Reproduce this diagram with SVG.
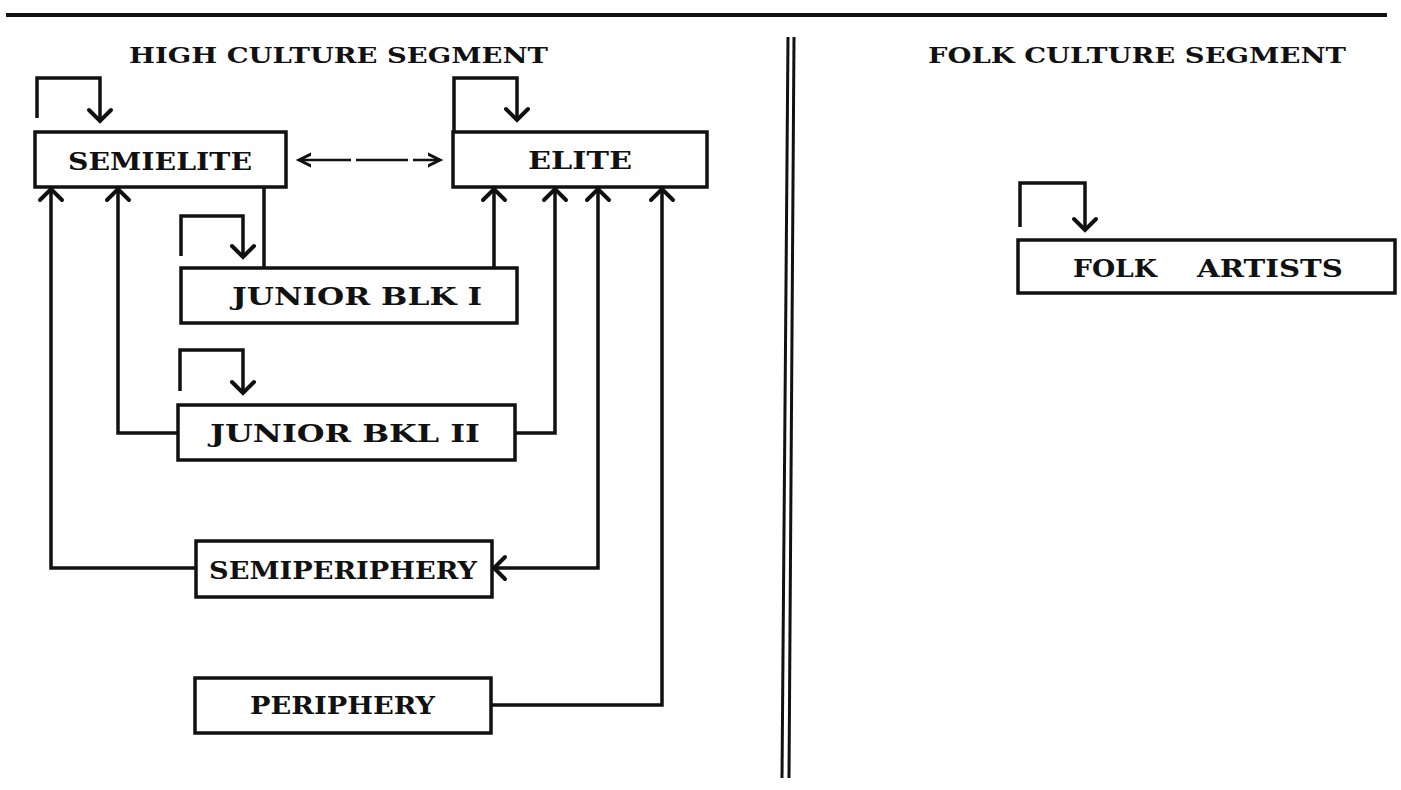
<svg xmlns="http://www.w3.org/2000/svg" width="1401" height="790" viewBox="0 0 1401 790">
<style>
.box{fill:#fff;stroke:#111;stroke-width:3.5}
.lbl{font-family:"DejaVu Serif","Liberation Serif",serif;font-weight:bold;font-size:25px;fill:#111}
.ttl{font-family:"DejaVu Serif","Liberation Serif",serif;font-weight:bold;font-size:23px;fill:#111}
.ln{fill:none;stroke:#111;stroke-width:3.5;stroke-linejoin:miter}
.rule{fill:none;stroke:#111;stroke-width:4}
</style>
<defs>
<marker id="ah" viewBox="-16 -16 32 32" markerWidth="32" markerHeight="32" markerUnits="userSpaceOnUse" orient="auto-start-reverse">
<path d="M-11,-11 L0,0 L-11,11" fill="none" stroke="#111" stroke-width="4" stroke-linecap="round" stroke-linejoin="miter"/>
</marker>
<marker id="sh" viewBox="-12 -12 24 24" markerWidth="24" markerHeight="24" markerUnits="userSpaceOnUse" orient="auto-start-reverse">
<path d="M-12,-6 L0,0 L-12,6" fill="none" stroke="#111" stroke-width="3" stroke-linecap="round"/>
</marker>
</defs>
<rect width="1401" height="790" fill="#fff"/>
<g id="frame">
<line class="rule" x1="6" y1="15" x2="1387" y2="15"/>
<line x1="788" y1="37" x2="782" y2="778" stroke="#111" stroke-width="3"/>
<line x1="794" y1="37" x2="789" y2="778" stroke="#111" stroke-width="3"/>
<text class="ttl" x="129" y="63" textLength="419" lengthAdjust="spacingAndGlyphs">HIGH CULTURE SEGMENT</text>
<text class="ttl" x="928" y="63" textLength="418" lengthAdjust="spacingAndGlyphs">FOLK CULTURE SEGMENT</text>
</g>
<g id="connectors">
<path class="ln" d="M37,118 V78 H100 V121" marker-end="url(#ah)"/>
<path class="ln" d="M454,132 V78 H517 V120" marker-end="url(#ah)"/>
<path class="ln" d="M181,256 V216 H243 V257" marker-end="url(#ah)"/>
<path class="ln" d="M180,391 V350 H243 V393" marker-end="url(#ah)"/>
<path class="ln" d="M1020,227 V183 H1085 V230" marker-end="url(#ah)"/>
<path d="M299,160 H440" fill="none" stroke="#111" stroke-width="2.5" stroke-dasharray="52 5" marker-start="url(#sh)" marker-end="url(#sh)"/>
<path class="ln" d="M264,187 V268"/>
<path class="ln" d="M494,268 V189" marker-end="url(#ah)"/>
<path class="ln" d="M515,433 H555 V189" marker-end="url(#ah)"/>
<path class="ln" d="M494,568 H598 V189" marker-start="url(#ah)" marker-end="url(#ah)"/>
<path class="ln" d="M491,705 H662 V189" marker-end="url(#ah)"/>
<path class="ln" d="M178,433 H118 V189" marker-end="url(#ah)"/>
<path class="ln" d="M196,568 H51 V189" marker-end="url(#ah)"/>
</g>
<g id="semielite">
<rect class="box" x="35" y="132" width="251" height="55"/>
<text class="lbl" x="68" y="170" textLength="184" lengthAdjust="spacingAndGlyphs">SEMIELITE</text>
</g>
<g id="elite">
<rect class="box" x="453" y="132" width="254" height="55"/>
<text class="lbl" x="528" y="169" textLength="104" lengthAdjust="spacingAndGlyphs">ELITE</text>
</g>
<g id="junior-blk-i">
<rect class="box" x="181" y="268" width="336" height="55"/>
<text class="lbl" x="232" y="305" textLength="250" lengthAdjust="spacingAndGlyphs">JUNIOR BLK I</text>
</g>
<g id="junior-bkl-ii">
<rect class="box" x="178" y="405" width="337" height="55"/>
<text class="lbl" x="210" y="442" textLength="270" lengthAdjust="spacingAndGlyphs">JUNIOR BKL II</text>
</g>
<g id="semiperiphery">
<rect class="box" x="196" y="541" width="296" height="56"/>
<text class="lbl" x="209" y="579" textLength="268" lengthAdjust="spacingAndGlyphs">SEMIPERIPHERY</text>
</g>
<g id="periphery">
<rect class="box" x="195" y="678" width="296" height="55"/>
<text class="lbl" x="250" y="714" textLength="185" lengthAdjust="spacingAndGlyphs">PERIPHERY</text>
</g>
<g id="folk-artists">
<rect class="box" x="1018" y="240" width="377" height="53"/>
<text class="lbl" y="277"><tspan x="1073" textLength="84" lengthAdjust="spacingAndGlyphs">FOLK</tspan> <tspan x="1197" textLength="146" lengthAdjust="spacingAndGlyphs">ARTISTS</tspan></text>
</g>
</svg>
